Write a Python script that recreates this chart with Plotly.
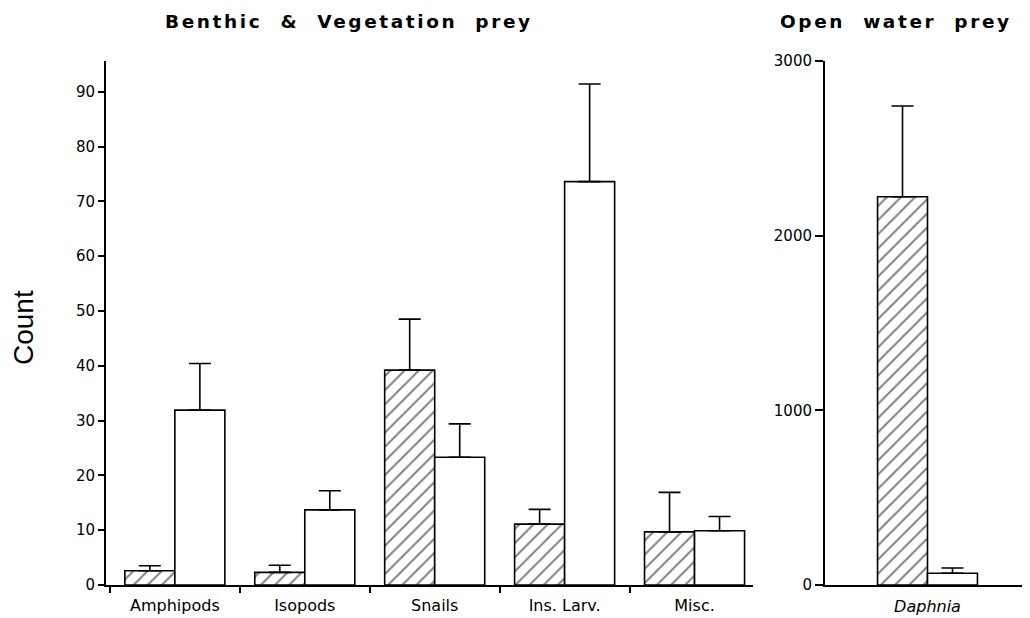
import plotly.graph_objects as go

# ---- data ----
categories = ["Amphipods", "Isopods", "Snails", "Ins. Larv.", "Misc."]
hatched_vals = [2.6, 2.3, 39.2, 11.1, 9.7]
hatched_err = [0.9, 1.3, 9.3, 2.7, 7.2]
open_vals = [31.9, 13.7, 23.3, 73.6, 9.9]
open_err = [8.5, 3.5, 6.1, 17.8, 2.6]

open_water_cats = ["<i>Daphnia</i>"]
daphnia_hatched = [2223]
daphnia_hatched_err = [519]
daphnia_open = [67]
daphnia_open_err = [30]

left_ticks = [0, 10, 20, 30, 40, 50, 60, 70, 80, 90]
right_ticks = [0, 1000, 2000, 3000]

W, H = 1030, 618
OFF = 8  # page body margin compensation (px)
LINE = dict(color="black", width=1.6)


def px_x(v):
    return (v - OFF) / W


def px_y(v):
    return 1 - (v - OFF) / H


def err(arr):
    return dict(type="data", array=arr, arrayminus=[0] * len(arr), symmetric=False,
                color="black", thickness=1.6, width=11)


hatch = dict(shape="/", fgcolor="black", bgcolor="white", size=10, solidity=0.2)

fig = go.Figure()
fig.add_trace(go.Bar(x=categories, y=hatched_vals, error_y=err(hatched_err),
                     marker=dict(color="white", line=LINE, pattern=hatch),
                     xaxis="x", yaxis="y", showlegend=False))
fig.add_trace(go.Bar(x=categories, y=open_vals, error_y=err(open_err),
                     marker=dict(color="white", line=LINE),
                     xaxis="x", yaxis="y", showlegend=False))
fig.add_trace(go.Bar(x=open_water_cats, y=daphnia_hatched, error_y=err(daphnia_hatched_err),
                     marker=dict(color="white", line=LINE, pattern=hatch),
                     xaxis="x2", yaxis="y2", showlegend=False))
fig.add_trace(go.Bar(x=open_water_cats, y=daphnia_open, error_y=err(daphnia_open_err),
                     marker=dict(color="white", line=LINE),
                     xaxis="x2", yaxis="y2", showlegend=False))

ydom = [px_y(585), px_y(61)]
tickfont = dict(family="DejaVu Sans", size=15, color="black")
catfont = dict(family="DejaVu Sans", size=16, color="black")

fig.update_layout(
    width=W, height=H,
    margin=dict(l=0, r=0, t=0, b=0, autoexpand=False),
    paper_bgcolor="white", plot_bgcolor="white",
    barmode="group", bargap=0.23, bargroupgap=0,
    xaxis=dict(domain=[px_x(106), px_x(753)], range=[-0.53, 4.45], automargin=False,
               showline=True, linecolor="black", linewidth=2,
               ticks="outside", tickson="boundaries", ticklen=6, tickwidth=2, tickcolor="black",
               ticklabelstandoff=5,
               showgrid=False, zeroline=False, tickfont=catfont, anchor="y"),
    yaxis=dict(domain=ydom, range=[0, 95.6], tickvals=left_ticks, automargin=False,
               showline=True, linecolor="black", linewidth=2,
               ticks="outside", ticklen=6, tickwidth=2, tickcolor="black",
               showgrid=False, zeroline=False, tickfont=tickfont, anchor="x"),
    xaxis2=dict(domain=[px_x(825), px_x(1030)], range=[-0.79, 0.79], automargin=False,
                showline=True, linecolor="black", linewidth=2,
                ticks="outside", ticklen=6, tickcolor="rgba(0,0,0,0)",
                ticklabelstandoff=0,
                showgrid=False, zeroline=False, tickfont=catfont, anchor="y2"),
    yaxis2=dict(domain=ydom, range=[0, 3000], tickvals=right_ticks, automargin=False,
                showline=True, linecolor="black", linewidth=2,
                ticks="outside", ticklen=8, tickwidth=2, tickcolor="black",
                showgrid=False, zeroline=False, tickfont=tickfont, anchor="x2"),
    annotations=[
        dict(text="<span style='letter-spacing:2.6px'>Benthic\u00a0\u00a0&amp;\u00a0\u00a0Vegetation\u00a0\u00a0prey</span>",
             x=px_x(349), y=px_y(22), xref="paper", yref="paper", showarrow=False,
             xanchor="center", yanchor="middle",
             font=dict(family="DejaVu Sans", size=18.5, color="black", weight="bold")),
        dict(text="<span style='letter-spacing:2.6px'>Open\u00a0\u00a0water\u00a0\u00a0prey</span>",
             x=px_x(896), y=px_y(22), xref="paper", yref="paper", showarrow=False,
             xanchor="center", yanchor="middle",
             font=dict(family="DejaVu Sans", size=18.5, color="black", weight="bold")),
        dict(text="Count", x=px_x(23), y=px_y(328), xref="paper", yref="paper",
             showarrow=False, textangle=-90, xanchor="center", yanchor="middle",
             font=dict(family="Liberation Sans", size=28, color="black")),
    ],
)

fig.write_html("out.html")
